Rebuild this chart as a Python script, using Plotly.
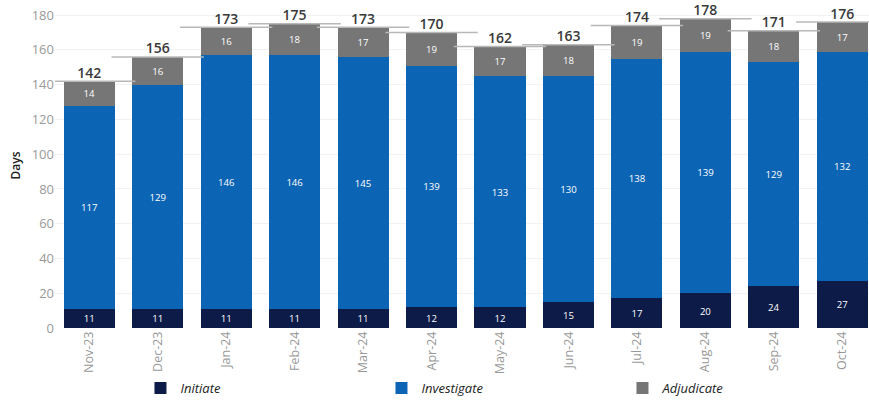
import plotly.graph_objects as go

months = ["Nov-23", "Dec-23", "Jan-24", "Feb-24", "Mar-24", "Apr-24", "May-24",
          "Jun-24", "Jul-24", "Aug-24", "Sep-24", "Oct-24"]
initiate = [11, 11, 11, 11, 11, 12, 12, 15, 17, 20, 24, 27]
investigate = [117, 129, 146, 146, 145, 139, 133, 130, 138, 139, 129, 132]
adjudicate = [14, 16, 16, 18, 17, 19, 17, 18, 19, 19, 18, 17]
totals = [142, 156, 173, 175, 173, 170, 162, 163, 174, 178, 171, 176]

C_INIT = "#0c1b47"
C_INV = "#0b64b4"
C_ADJ = "#767676"
FONT = "Open Sans"

fig = go.Figure()
for name, vals, col in [("Initiate", initiate, C_INIT),
                        ("Investigate", investigate, C_INV),
                        ("Adjudicate", adjudicate, C_ADJ)]:
    fig.add_trace(go.Bar(
        x=months, y=vals, name=name, marker=dict(color=col, line=dict(width=0)),
        width=0.745, text=[str(v) for v in vals], textposition="inside",
        insidetextanchor="middle", textangle=0,
        textfont=dict(color="white", size=11, family=FONT),
        hoverinfo="skip",
    ))

# total marker lines
fig.add_trace(go.Scatter(
    x=months, y=totals, mode="markers", showlegend=False,
    marker=dict(symbol="line-ew", size=66, color="#b8b8b8",
                line=dict(color="#b8b8b8", width=1.5)),
    hoverinfo="skip",
))
# total labels
fig.add_trace(go.Scatter(
    x=months, y=totals, mode="text", showlegend=False,
    text=[str(v) for v in totals], textposition="top center",
    textfont=dict(color="#3a3a3a", size=14, family=FONT, weight=600),
    hoverinfo="skip",
))

fig.update_layout(
    barmode="stack",
    width=869, height=400,
    margin=dict(l=55, r=0, t=3, b=72),
    paper_bgcolor="white", plot_bgcolor="white",
    font=dict(family=FONT, color="#888888"),
    uniformtext=dict(minsize=8, mode="show"),
    legend=dict(
        orientation="h", x=0.105, xanchor="left", y=0.03, yanchor="middle",
        yref="container", entrywidth=196, entrywidthmode="pixels",
        font=dict(size=13, color="#222222", family=FONT, style="italic"),
        traceorder="normal", itemwidth=30,
    ),
    xaxis=dict(
        type="category", tickangle=-90, range=[-0.5, 11.39],
        tickfont=dict(size=12.5, color="#999999"), showgrid=False,
        showline=False, ticks="", automargin=False,
    ),
    yaxis=dict(
        range=[0, 187], tickvals=[0, 20, 40, 60, 80, 100, 120, 140, 160, 180],
        tickfont=dict(size=13, color="#999999"), showgrid=True,
        gridcolor="#f2f2f2", zeroline=False, automargin=False,
        title=dict(text="Days", font=dict(size=12, color="#222222", weight=600), standoff=8),
    ),
)

fig.write_html("out.html", config={"displayModeBar": False},
               post_script="document.body.style.margin='0';")
